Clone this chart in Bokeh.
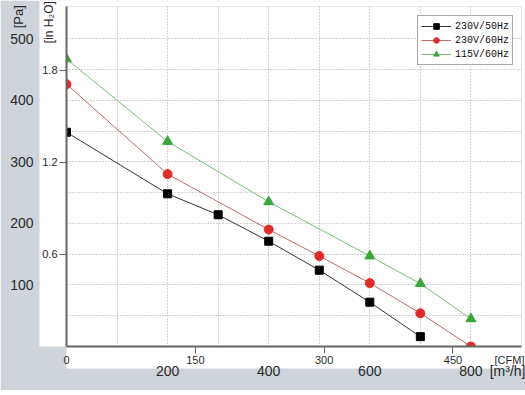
import math
from bokeh.plotting import figure
from bokeh.models import (Range1d, LinearAxis, FixedTicker, Grid, Legend, LegendItem,
                          BoxAnnotation)
from bokeh.embed import file_html
from bokeh.resources import INLINE

# ---- data (flow in m3/h, static pressure in Pa) ----
flow_230_50 = [0, 200, 300, 400, 500, 600, 700]
pa_230_50 = [348, 248, 214, 171, 124, 72, 16]
flow_230_60 = [0, 200, 400, 500, 600, 700, 800]
pa_230_60 = [426, 280, 190, 147, 103, 54, 0]
flow_115_60 = [0, 200, 400, 600, 700, 800]
pa_115_60 = [467, 333, 235, 147, 102, 45]
series_names = ["230V/50Hz", "230V/60Hz", "115V/60Hz"]

pa_ticks = [100, 200, 300, 400, 500]
inh2o_ticks = [0.6, 1.2, 1.8]
cfm_ticks = [0, 150, 300, 450]
m3h_ticks = [200, 400, 600, 800]
x_grid_ticks = [100, 200, 300, 400, 500, 600, 700, 800]
y_grid_ticks = [50, 100, 150, 200, 250, 300, 350, 400, 450, 500]

M3H_PER_CFM = 1.69901
PA_PER_INH2O = 249.089

W, H = 525, 390
FL, FB = 66, 346          # frame left / bottom pixel
X_MAX, Y_MAX = 908, 562   # visible ranges (frame reaches canvas top/right)
X_BOX, Y_BOX = 900, 552   # drawn chart box

GRAY = "#ced4d9"
TXT = "#2a2a2a"
FONT = "Liberation Sans"
NBSP = "\u00a0"

p = figure(width=W, height=H, output_backend="svg", toolbar_location=None,
           x_range=Range1d(0, X_MAX), y_range=Range1d(0, Y_MAX),
           x_axis_location=None, y_axis_location=None,
           min_border_left=FL, min_border_right=0, min_border_top=0,
           min_border_bottom=H - FB,
           border_fill_color=GRAY, background_fill_color="white",
           outline_line_color=None)
p.xgrid.visible = False
p.ygrid.visible = False
p.extra_x_ranges = {"cfm": Range1d(0, X_MAX / M3H_PER_CFM)}
p.extra_y_ranges = {"inh2o": Range1d(0, Y_MAX / PA_PER_INH2O)}

# grids
p.add_layout(Grid(dimension=0, ticker=FixedTicker(ticks=x_grid_ticks),
                  grid_line_color="#a8a8a8", grid_line_dash="1 2", grid_line_width=1))
p.add_layout(Grid(dimension=1, ticker=FixedTicker(ticks=y_grid_ticks),
                  grid_line_color="#a8a8a8", grid_line_dash="1 2", grid_line_width=1))
# white margin inside frame above / right of the chart box, then the box outline
p.add_layout(BoxAnnotation(bottom=Y_BOX, fill_color="white", fill_alpha=1,
                           line_color=None, level="underlay"))
p.add_layout(BoxAnnotation(left=X_BOX, fill_color="white", fill_alpha=1,
                           line_color=None, level="underlay"))
p.add_layout(BoxAnnotation(left=0, right=X_BOX, bottom=0, top=Y_BOX, fill_alpha=0,
                           line_color="#9a9a9a", line_width=1, level="underlay"))


def style_common(ax, size):
    ax.major_label_text_font = FONT
    ax.major_label_text_font_size = size
    ax.major_label_text_color = TXT
    ax.minor_tick_in = 0
    ax.major_tick_in = 0


def unit_label(ax, text, standoff, size):
    ax.axis_label = text
    ax.axis_label_align = "end"
    ax.axis_label_standoff = standoff
    ax.axis_label_text_font = FONT
    ax.axis_label_text_font_size = size
    ax.axis_label_text_font_style = "normal"
    ax.axis_label_text_color = TXT


# inner left axis: in H2O
ax_in = LinearAxis(y_range_name="inh2o", ticker=FixedTicker(ticks=inh2o_ticks),
                   bounds=(0, Y_BOX / PA_PER_INH2O))
style_common(ax_in, "11px")
ax_in.axis_line_color = "#666666"
ax_in.axis_line_width = 2
ax_in.major_tick_line_color = "#666666"
ax_in.major_tick_out = 7
ax_in.minor_tick_out = 0
ax_in.major_label_standoff = 2
# label is centred on the axis end, trailing no-break spaces push it down
unit_label(ax_in, "[in H\u2082O]" + NBSP * 13, -17, "12px")
ax_in.background_fill_color = "white"
p.add_layout(ax_in, "left")

# outer left axis: Pa
ax_pa = LinearAxis(ticker=FixedTicker(ticks=pa_ticks))
style_common(ax_pa, "14px")
ax_pa.axis_line_color = None
ax_pa.major_tick_line_color = None
ax_pa.minor_tick_line_color = None
ax_pa.major_tick_out = 0
ax_pa.minor_tick_out = 0
ax_pa.major_label_standoff = 6
unit_label(ax_pa, "[Pa]" + NBSP * 9, -19, "13px")
p.add_layout(ax_pa, "left")

# inner bottom axis: CFM (unit written as last tick label)
cfm_unit_pos = (509 - FL) / (W - FL) * X_MAX / M3H_PER_CFM
ax_cfm = LinearAxis(x_range_name="cfm",
                    ticker=FixedTicker(ticks=cfm_ticks + [cfm_unit_pos],
                                       minor_ticks=cfm_ticks[1:]),
                    bounds=(0, X_BOX / M3H_PER_CFM))
style_common(ax_cfm, "11px")
ax_cfm.axis_line_color = "#666666"
ax_cfm.axis_line_width = 2
ax_cfm.major_tick_out = 0
ax_cfm.major_tick_line_color = None
ax_cfm.minor_tick_out = 7
ax_cfm.minor_tick_line_color = "#666666"
ax_cfm.major_label_standoff = 0
ax_cfm.major_label_overrides = {cfm_unit_pos: "[CFM]"}
ax_cfm.background_fill_color = "white"
p.add_layout(ax_cfm, "below")

# outer bottom axis: m3/h
m3h_unit_pos = (511 - FL) / (W - FL) * X_MAX
ax_m3h = LinearAxis(ticker=FixedTicker(ticks=m3h_ticks + [m3h_unit_pos], minor_ticks=[]))
style_common(ax_m3h, "14px")
ax_m3h.axis_line_color = None
ax_m3h.major_tick_line_color = None
ax_m3h.minor_tick_line_color = None
ax_m3h.major_tick_out = 0
ax_m3h.minor_tick_out = 0
ax_m3h.major_label_standoff = -6
ax_m3h.major_label_overrides = {m3h_unit_pos: "[m\u00b3/h]"}
p.add_layout(ax_m3h, "below")

# series
l1 = p.line(flow_230_50, pa_230_50, line_color="#333333", line_width=1)
s1 = p.scatter(flow_230_50, pa_230_50, marker="square", size=8,
               fill_color="#000000", line_color="#000000")
l2 = p.line(flow_230_60, pa_230_60, line_color="#c06868", line_width=1)
s2 = p.scatter(flow_230_60, pa_230_60, marker="circle", size=9,
               fill_color="#e02b2b", line_color="#e02b2b")
l3 = p.line(flow_115_60, pa_115_60, line_color="#74bf74", line_width=1)
s3 = p.scatter(flow_115_60, pa_115_60, marker="triangle", size=10,
               fill_color="#3aa63a", line_color="#3aa63a")

legend = Legend(items=[LegendItem(label=series_names[0], renderers=[l1, s1]),
                       LegendItem(label=series_names[1], renderers=[l2, s2]),
                       LegendItem(label=series_names[2], renderers=[l3, s3])],
                location=(417 - FL, FB - 65),
                label_text_font="Liberation Mono", label_text_font_size="10px",
                label_text_color="#111111",
                glyph_width=30, glyph_height=14, label_height=14, spacing=-1,
                padding=3, margin=0, label_standoff=4,
                border_line_color="#555555", border_line_width=1,
                background_fill_color="white", background_fill_alpha=1)
p.add_layout(legend)

open("out.html", "w").write(file_html(p, INLINE))
